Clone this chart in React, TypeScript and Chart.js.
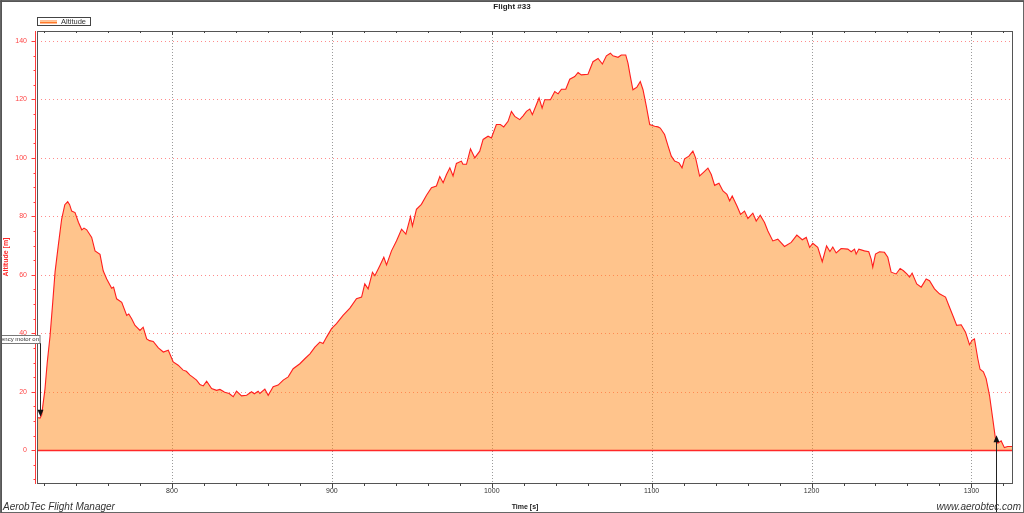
import React, { useEffect, useRef } from "react";
import { Chart, registerables } from "chart.js";

Chart.register(...registerables);

const TITLE = "Flight #33";
const SERIES_LABEL = "Altitude";
const X_TITLE = "Time [s]";
const Y_TITLE = "Altitude [m]";
const FOOTER_LEFT = "AerobTec Flight Manager";
const FOOTER_RIGHT = "www.aerobtec.com";

const X_MIN = 715.6;
const X_MAX = 1326;
const Y_MIN = -11.2;
const Y_MAX = 143.4;
const X_TICKS = [800, 900, 1000, 1100, 1200, 1300];
const X_MINOR_STEP = 20;
const Y_TICKS = [0, 20, 40, 60, 80, 100, 120, 140];
const Y_MINOR_STEP = 5;

const TIME = [
  715.6, 717.5, 718.5, 720.6, 722, 723.75, 725.5, 726.9, 728.9, 731, 733, 734.8, 736, 737.3, 739.4, 741.5,
  743.6, 745, 746.7, 749.8, 751.9, 755, 757, 759.2, 762.3, 763.5, 765.4, 768.6, 771.7, 773, 774.8, 776.9,
  780, 782, 784.2, 786, 788.3, 791.5, 794.6, 797.7, 800.8, 803.9, 807, 809, 811.3, 813, 815.4, 817.5,
  819.6, 821.7, 824.8, 827.9, 830, 832, 833, 835.8, 838.3, 840.4, 843.5, 846.7, 849.8, 851.5, 853.9, 855,
  858.1, 860.2, 863.3, 866.4, 869.6, 872.7, 875.8, 880, 883.1, 886.3, 889.4, 892.5, 894.5, 896.7, 899.8,
  902.9, 907, 911.3, 915.4, 918.6, 920.6, 922.7, 925.4, 926.9, 930, 932.5, 934.2, 937.3, 940.4, 943.6,
  946.3, 949.2, 950.4, 952.9, 956, 959.2, 962.3, 965.4, 967.5, 969.6, 971.7, 973.8, 975.8, 977.9, 981,
  982, 984.2, 986.7, 989.4, 992.5, 994.6, 997.7, 999.8, 1002.9, 1005.4, 1007.5, 1010.2, 1012.3, 1014.4,
  1017.5, 1019.6, 1021.7, 1023.8, 1025.4, 1027.9, 1029.6, 1031.5, 1033.1, 1036.7, 1039.4, 1041.5, 1043.6,
  1046.3, 1048.8, 1051.9, 1054, 1056, 1060.2, 1063.3, 1066.5, 1069.2, 1071.7, 1074.2, 1075.8, 1079, 1081,
  1083.8, 1085.2, 1086.7, 1088.3, 1090.8, 1092.9, 1094.6, 1096.7, 1098.8, 1101.9, 1104, 1105.4, 1108.1,
  1110.2, 1112.3, 1114.4, 1117.1, 1119, 1120.6, 1123.3, 1125.8, 1127.5, 1130, 1132.1, 1135.2, 1137.3,
  1139.4, 1142.1, 1144.6, 1147.1, 1148.8, 1150.4, 1153.3, 1155.6, 1158.1, 1160.2, 1163.3, 1165.4, 1167.9,
  1170.6, 1172.7, 1175.8, 1178.9, 1183.1, 1187.3, 1190.8, 1194.2, 1196.7, 1198.8, 1200.8, 1203.9, 1206.7,
  1209.4, 1211.5, 1213.3, 1215.4, 1218.5, 1222.7, 1224.8, 1226.9, 1227.9, 1229.6, 1233.1, 1235.8, 1237.3,
  1238.3, 1240, 1242.5, 1245.6, 1247.7, 1249.8, 1252.9, 1255.4, 1257.5, 1259.6, 1261.3, 1262.9, 1265.8,
  1268.6, 1271.7, 1273.8, 1276.9, 1280, 1283.8, 1286.3, 1288.8, 1290.8, 1293.6, 1296.3, 1298.8, 1300.4,
  1301.9, 1304, 1305.4, 1307.5, 1309.2, 1311.3, 1313.3, 1315, 1316.5, 1318.6, 1320.6, 1322.7, 1325.4,
];

const ALTITUDE = [
  11.2, 11.0, 12, 21, 30, 39, 51, 61, 70, 79, 84, 85, 84, 81.8, 81.3, 78,
  75.4, 76, 75.4, 72.8, 68.2, 67, 61.4, 58.6, 55.4, 55.8, 51.8, 50.6, 46.1, 46.6, 45, 42.7,
  41, 42.1, 38.1, 37.5, 37.2, 35, 33.6, 34.2, 30.2, 29.1, 27.4, 27, 25.7, 25, 24, 22.5,
  22, 23.6, 21.1, 20.5, 20.8, 20.2, 19.8, 19.4, 18.3, 20.2, 18.6, 18.8, 20, 19.3, 20.2, 19.4,
  20.9, 18.8, 21.7, 22.3, 24, 25.1, 27.9, 29.6, 31.3, 33, 35.3, 37, 36.5, 38.7, 41.6,
  43.3, 46.1, 48.6, 51.8, 52.4, 56.9, 55.2, 60.9, 59.7, 63.1, 66, 63.4, 68.2, 71.6, 75.6,
  73.9, 79.9, 76.7, 82.4, 84.1, 87.2, 89.8, 90.4, 93.6, 91.5, 94.3, 96.6, 93.8, 98.1, 98.9,
  97.8, 97.8, 103.1, 100, 102.3, 106.3, 107.4, 106.8, 111.4, 111.4, 110.6, 112.5, 115.9, 114.2,
  113.1, 114.4, 115.9, 116.7, 114.8, 118.2, 120.5, 117, 119.9, 119.9, 122.7, 121.9, 123.5,
  123.5, 126.9, 127.8, 129.2, 128.4, 128.6, 132.9, 134, 132.1, 134.9, 135.8, 134.9, 134.4, 135.2,
  135.2, 132.4, 127.8, 123.3, 124.2, 126.1, 123.3, 117.6, 111.4, 110.8, 110.6, 110.2, 108,
  104.2, 100.6, 98.9, 98.3, 96.6, 99.7, 100.6, 102.3, 100, 93.8, 94.9, 96.5, 94.3,
  90.6, 91.3, 88.7, 87.5, 85.3, 87, 83.6, 80.7, 81.8, 79.3, 81.1, 78.4, 80.4,
  77.9, 75, 71.6, 72.2, 69.7, 71.1, 73.6, 72, 72.8, 69.4, 70.8, 69.4, 64.5,
  69.9, 68, 69.5, 67.5, 69, 68.8, 67.9, 68.8, 67.1, 68.8, 68.2, 67.9, 65.4,
  62.6, 67.1, 67.9, 67.7, 66, 60.9, 60.3, 62.2, 61.4, 60.3, 59.2, 60.6, 56.9,
  55.8, 58.6, 58, 55.2, 53.5, 52.4, 48.9, 45.5, 42.7, 42.9, 40.4, 36.1, 37.6,
  38.1, 31.3, 27.7, 26.8, 24.5, 18.8, 10.9, 4.1, 2.4, 3.2, 0.9, 1.3, 1.3,
];

const EVENT_TIMES = [717.5, 1315.2];
const EVENT_ALTS = [11.5, 5.1];
const EVENT_DIRS = ["down", "up"];
const EVENT_LABELS = ["Emergency motor on", ""];

const FONT = "'Liberation Sans', Arial, sans-serif";

const decorPlugin = {
  id: "decor",
  beforeDatasetsDraw(chart: any) {
    const { ctx, chartArea: a, scales } = chart;
    const x = scales.x;
    const y = scales.y;
    ctx.save();
    ctx.lineWidth = 1;
    ctx.strokeStyle = "rgba(150,150,150,0.95)";
    ctx.setLineDash([1, 2]);
    X_TICKS.forEach((v) => {
      const px = Math.round(x.getPixelForValue(v)) + 0.5;
      ctx.beginPath();
      ctx.moveTo(px, a.top);
      ctx.lineTo(px, a.bottom);
      ctx.stroke();
    });
    ctx.strokeStyle = "rgba(255,110,110,0.8)";
    ctx.setLineDash([1, 3]);
    Y_TICKS.filter((v) => v !== 0).forEach((v) => {
      const py = Math.round(y.getPixelForValue(v)) + 0.5;
      ctx.beginPath();
      ctx.moveTo(a.left, py);
      ctx.lineTo(a.right, py);
      ctx.stroke();
    });
    ctx.restore();
  },
  afterDatasetsDraw(chart: any) {
    const { ctx, chartArea: a, scales } = chart;
    const x = scales.x;
    const y = scales.y;
    ctx.save();
    const y0 = Math.round(y.getPixelForValue(0)) + 0.5;
    ctx.strokeStyle = "rgb(255,40,40)";
    ctx.lineWidth = 1.5;
    ctx.beginPath();
    ctx.moveTo(a.left, y0);
    ctx.lineTo(a.right, y0);
    ctx.stroke();

    ctx.lineWidth = 1;
    ctx.strokeStyle = "#555";
    ctx.strokeRect(a.left + 0.5, a.top + 0.5, a.right - a.left - 1, a.bottom - a.top);

    const ax = a.left - 2 + 0.5;
    ctx.strokeStyle = "rgb(255,60,60)";
    ctx.beginPath();
    ctx.moveTo(ax, a.top);
    ctx.lineTo(ax, a.bottom + 1);
    ctx.stroke();
    for (let v = -10; v <= 140; v += Y_MINOR_STEP) {
      const py = Math.round(y.getPixelForValue(v)) + 0.5;
      const major = v % 20 === 0;
      ctx.beginPath();
      ctx.moveTo(ax - (major ? 4 : 2), py);
      ctx.lineTo(ax, py);
      ctx.stroke();
    }

    ctx.strokeStyle = "#444";
    for (let v = 720; v <= 1320; v += X_MINOR_STEP) {
      const px = Math.round(x.getPixelForValue(v)) + 0.5;
      const major = v % 100 === 0;
      ctx.beginPath();
      ctx.moveTo(px, a.bottom);
      ctx.lineTo(px, a.bottom + (major ? 5 : 3));
      ctx.moveTo(px, a.top);
      ctx.lineTo(px, a.top + (major ? 4 : 2));
      ctx.stroke();
    }

    ctx.font = `6px ${FONT}`;
    EVENT_TIMES.forEach((t, i) => {
      const px = Math.round(x.getPixelForValue(t)) + 0.5;
      const py = y.getPixelForValue(EVENT_ALTS[i]);
      ctx.strokeStyle = "#222";
      ctx.fillStyle = "#111";
      ctx.lineWidth = 1;
      if (EVENT_DIRS[i] === "down") {
        const boxBottom = Math.round(py - 74);
        ctx.beginPath();
        ctx.moveTo(px, boxBottom);
        ctx.lineTo(px, py - 6);
        ctx.stroke();
        ctx.beginPath();
        ctx.moveTo(px - 3, py - 7);
        ctx.lineTo(px + 3, py - 7);
        ctx.lineTo(px, py);
        ctx.closePath();
        ctx.fill();
        ctx.fillStyle = "#fff";
        ctx.fillRect(-20, boxBottom - 8, px + 20, 8);
        ctx.strokeStyle = "#777";
        ctx.strokeRect(-20.5, boxBottom - 8 + 0.5, px + 20, 8);
        ctx.fillStyle = "#333";
        ctx.textAlign = "right";
        ctx.textBaseline = "middle";
        ctx.fillText(EVENT_LABELS[i], px - 1.5, boxBottom - 3.6);
      } else {
        ctx.beginPath();
        ctx.moveTo(px, py + 6);
        ctx.lineTo(px, chart.height);
        ctx.stroke();
        ctx.beginPath();
        ctx.moveTo(px - 3, py + 7);
        ctx.lineTo(px + 3, py + 7);
        ctx.lineTo(px, py);
        ctx.closePath();
        ctx.fill();
      }
    });
    ctx.restore();
  },
  afterDraw(chart: any) {
    const { ctx, chartArea: a, width, height } = chart;
    ctx.save();
    ctx.fillStyle = "#222";
    ctx.font = `bold 8px ${FONT}`;
    ctx.textAlign = "center";
    ctx.textBaseline = "middle";
    ctx.fillText(TITLE, width / 2, 7);

    ctx.fillStyle = "#fff";
    ctx.fillRect(a.left, 17, 53, 9);
    ctx.strokeStyle = "#444";
    ctx.lineWidth = 1;
    ctx.strokeRect(a.left + 0.5, 17.5, 53, 8);
    ctx.strokeStyle = "rgb(255,120,40)";
    ctx.lineWidth = 3;
    ctx.beginPath();
    ctx.moveTo(a.left + 3, 22);
    ctx.lineTo(a.left + 20, 22);
    ctx.stroke();
    ctx.strokeStyle = "rgb(255,200,150)";
    ctx.lineWidth = 1;
    ctx.beginPath();
    ctx.moveTo(a.left + 3, 21.5);
    ctx.lineTo(a.left + 20, 21.5);
    ctx.stroke();
    ctx.fillStyle = "#333";
    ctx.font = `7.5px ${FONT}`;
    ctx.textAlign = "left";
    ctx.fillText(SERIES_LABEL, a.left + 24, 22);

    ctx.font = `italic 10px ${FONT}`;
    ctx.fillStyle = "#333";
    ctx.textAlign = "left";
    ctx.fillText(FOOTER_LEFT, 3, 507);
    ctx.textAlign = "right";
    ctx.fillText(FOOTER_RIGHT, width - 3, 507);

    ctx.strokeStyle = "#666";
    ctx.lineWidth = 1;
    ctx.strokeRect(0.5, 0.5, width - 1, height - 1);
    ctx.strokeStyle = "#555";
    ctx.beginPath();
    ctx.moveTo(0, 1.5);
    ctx.lineTo(width, 1.5);
    ctx.moveTo(1.5, 0);
    ctx.lineTo(1.5, height);
    ctx.stroke();
    ctx.restore();
  },
};

export default function App() {
  const ref = useRef<HTMLCanvasElement | null>(null);

  useEffect(() => {
    document.body.style.margin = "0";
    const canvas = ref.current;
    if (!canvas) return;
    Chart.defaults.font.family = FONT;
    const chart = new Chart(canvas, {
      type: "line",
      data: {
        datasets: [
          {
            label: SERIES_LABEL,
            data: TIME.map((t, i) => ({ x: t, y: ALTITUDE[i] })),
            borderColor: "rgb(255,30,30)",
            borderWidth: 1.1,
            backgroundColor: "rgba(255,137,25,0.5)",
            fill: "origin",
            pointRadius: 0,
            tension: 0,
          },
        ],
      },
      options: {
        animation: false,
        responsive: false,
        maintainAspectRatio: false,
        devicePixelRatio: 1,
        layout: { padding: { top: 31, right: 11, left: 0, bottom: 0 } },
        plugins: {
          legend: { display: false },
          title: { display: false },
          tooltip: { enabled: false },
        },
        scales: {
          x: {
            type: "linear",
            min: X_MIN,
            max: X_MAX,
            afterBuildTicks: (s: any) => {
              s.ticks = X_TICKS.map((value) => ({ value }));
            },
            afterFit: (s: any) => {
              s.height = 30;
            },
            grid: { display: false, drawTicks: false },
            border: { display: false },
            ticks: {
              color: "#333",
              font: { size: 7 },
              padding: 4,
              maxRotation: 0,
              autoSkip: false,
              callback: (v: any) => String(v),
            },
            title: {
              display: true,
              text: X_TITLE,
              color: "#222",
              font: { size: 7, weight: "bold" },
              padding: { top: 0, bottom: 2 },
            },
          },
          y: {
            type: "linear",
            min: Y_MIN,
            max: Y_MAX,
            afterBuildTicks: (s: any) => {
              s.ticks = Y_TICKS.map((value) => ({ value }));
            },
            afterFit: (s: any) => {
              s.width = 37;
            },
            grid: { display: false, drawTicks: false },
            border: { display: false },
            ticks: {
              color: "rgb(255,70,70)",
              font: { size: 7 },
              padding: 10,
              callback: (v: any) => String(v),
            },
            title: {
              display: true,
              text: Y_TITLE,
              color: "rgb(255,40,40)",
              font: { size: 7, weight: "bold" },
              padding: { top: 1.5, bottom: 0 },
            },
          },
        },
      },
      plugins: [decorPlugin],
    } as any);
    return () => chart.destroy();
  }, []);

  return <canvas ref={ref} width={1024} height={513} style={{ display: "block" }} />;
}
